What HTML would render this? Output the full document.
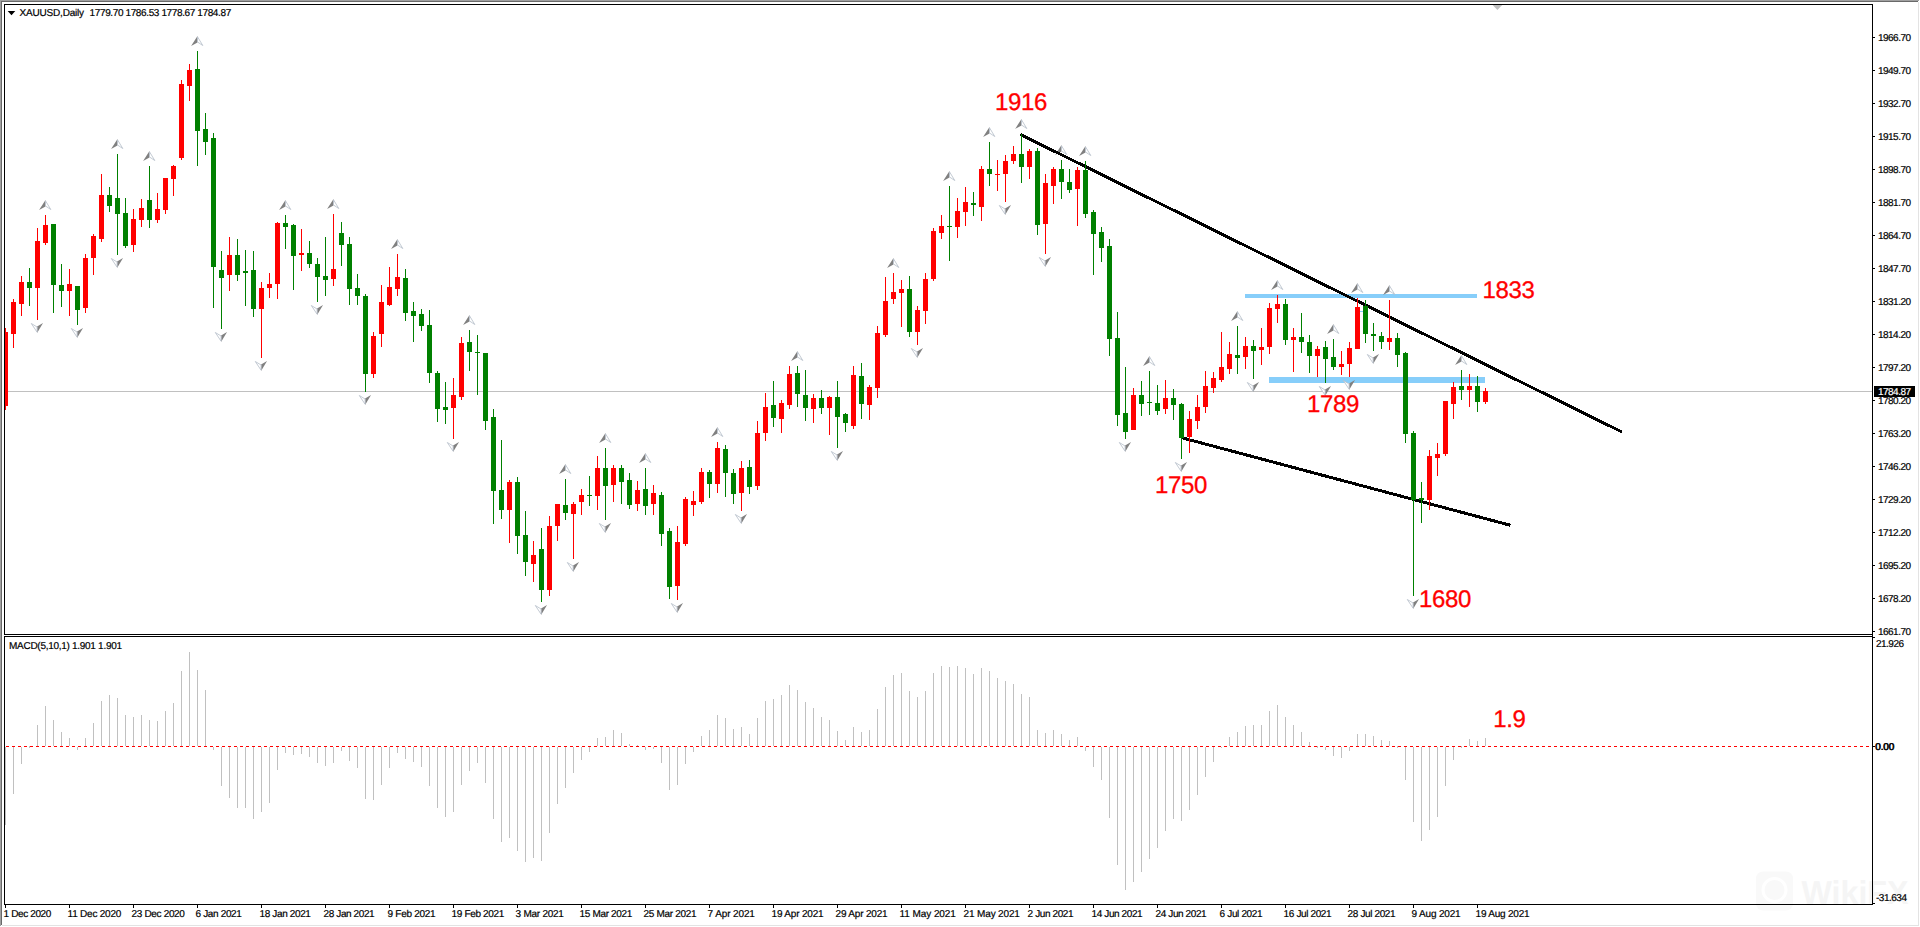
<!DOCTYPE html>
<html lang="en"><head><meta charset="utf-8"><title>XAUUSD,Daily</title>
<style>html,body{margin:0;padding:0;background:#fff;}body{width:1920px;height:927px;overflow:hidden;position:relative;font-family:"Liberation Sans",sans-serif;}svg{position:absolute;left:0;top:0;display:block}text{font-family:"Liberation Sans",sans-serif;text-rendering:geometricPrecision;}.s{font-size:10px;fill:#000;stroke:#000;stroke-width:0.2px}.b{font-size:24px;fill:#ff0000;letter-spacing:-0.35px;stroke:#ff0000;stroke-width:0.3px}</style>
</head><body>
<svg width="1920" height="927" viewBox="0 0 1920 927">
<rect x="0" y="0" width="1920" height="927" fill="#ffffff"/>
<rect x="1756" y="871.5" width="37" height="39" rx="7" fill="#f9f9f9"/>
<circle cx="1774.5" cy="890" r="11.5" fill="none" stroke="#ffffff" stroke-width="3"/>
<text x="1801.5" y="904" font-size="33" font-weight="bold" fill="#f5f5f5" textLength="107" lengthAdjust="spacingAndGlyphs" style="font-family:'Liberation Sans',sans-serif">WikiFX</text>
<g shape-rendering="crispEdges">
<rect x="0" y="0" width="1919" height="1" fill="#a0a0a0"/>
<rect x="0" y="0" width="1" height="926" fill="#a0a0a0"/>
<rect x="1" y="1" width="1917" height="1" fill="#696969"/>
<rect x="1" y="1" width="1" height="924" fill="#696969"/>
<rect x="2" y="925" width="1917" height="1" fill="#e3e3e3"/>
<rect x="1918" y="2" width="1" height="924" fill="#e3e3e3"/>
<rect x="4" y="4" width="1869" height="1" fill="#000000"/>
<rect x="4" y="4" width="1" height="631" fill="#000000"/>
<rect x="1872" y="4" width="1" height="900" fill="#000000"/>
<rect x="4" y="634" width="1869" height="1" fill="#000000"/>
<rect x="4" y="636" width="1869" height="1" fill="#000000"/>
<rect x="4" y="636" width="1" height="269" fill="#000000"/>
<rect x="4" y="904" width="1869" height="1" fill="#000000"/>
<rect x="1873" y="37" width="2" height="1" fill="#000000"/>
<rect x="1873" y="70" width="2" height="1" fill="#000000"/>
<rect x="1873" y="103" width="2" height="1" fill="#000000"/>
<rect x="1873" y="136" width="2" height="1" fill="#000000"/>
<rect x="1873" y="169" width="2" height="1" fill="#000000"/>
<rect x="1873" y="202" width="2" height="1" fill="#000000"/>
<rect x="1873" y="235" width="2" height="1" fill="#000000"/>
<rect x="1873" y="268" width="2" height="1" fill="#000000"/>
<rect x="1873" y="301" width="2" height="1" fill="#000000"/>
<rect x="1873" y="334" width="2" height="1" fill="#000000"/>
<rect x="1873" y="367" width="2" height="1" fill="#000000"/>
<rect x="1873" y="400" width="2" height="1" fill="#000000"/>
<rect x="1873" y="433" width="2" height="1" fill="#000000"/>
<rect x="1873" y="466" width="2" height="1" fill="#000000"/>
<rect x="1873" y="499" width="2" height="1" fill="#000000"/>
<rect x="1873" y="532" width="2" height="1" fill="#000000"/>
<rect x="1873" y="565" width="2" height="1" fill="#000000"/>
<rect x="1873" y="598" width="2" height="1" fill="#000000"/>
<rect x="1873" y="631" width="2" height="1" fill="#000000"/>
<rect x="1873" y="637" width="2" height="1" fill="#000000"/>
<rect x="1873" y="746" width="2" height="1" fill="#000000"/>
<rect x="1873" y="903" width="2" height="1" fill="#000000"/>
<rect x="5" y="905" width="1" height="3" fill="#000000"/>
<rect x="69" y="905" width="1" height="3" fill="#000000"/>
<rect x="133" y="905" width="1" height="3" fill="#000000"/>
<rect x="197" y="905" width="1" height="3" fill="#000000"/>
<rect x="261" y="905" width="1" height="3" fill="#000000"/>
<rect x="325" y="905" width="1" height="3" fill="#000000"/>
<rect x="389" y="905" width="1" height="3" fill="#000000"/>
<rect x="453" y="905" width="1" height="3" fill="#000000"/>
<rect x="517" y="905" width="1" height="3" fill="#000000"/>
<rect x="581" y="905" width="1" height="3" fill="#000000"/>
<rect x="645" y="905" width="1" height="3" fill="#000000"/>
<rect x="709" y="905" width="1" height="3" fill="#000000"/>
<rect x="773" y="905" width="1" height="3" fill="#000000"/>
<rect x="837" y="905" width="1" height="3" fill="#000000"/>
<rect x="901" y="905" width="1" height="3" fill="#000000"/>
<rect x="965" y="905" width="1" height="3" fill="#000000"/>
<rect x="1029" y="905" width="1" height="3" fill="#000000"/>
<rect x="1093" y="905" width="1" height="3" fill="#000000"/>
<rect x="1157" y="905" width="1" height="3" fill="#000000"/>
<rect x="1221" y="905" width="1" height="3" fill="#000000"/>
<rect x="1285" y="905" width="1" height="3" fill="#000000"/>
<rect x="1349" y="905" width="1" height="3" fill="#000000"/>
<rect x="1413" y="905" width="1" height="3" fill="#000000"/>
<rect x="1477" y="905" width="1" height="3" fill="#000000"/>
<rect x="5" y="391" width="1867" height="1" fill="#c0c0c0"/>
<rect x="1245" y="294" width="232" height="4" fill="#87cefa"/>
<rect x="1269" y="377" width="216" height="6" fill="#87cefa"/>
<rect x="1360" y="311" width="3" height="1" fill="#87cefa"/>
<polygon points="1492.6,5 1502.2,5 1497.4,10" fill="#c0c0c0" shape-rendering="geometricPrecision"/>
<rect x="5" y="747" width="1" height="78" fill="#c0c0c0"/>
<rect x="13" y="747" width="1" height="47" fill="#c0c0c0"/>
<rect x="21" y="747" width="1" height="17" fill="#c0c0c0"/>
<rect x="29" y="746" width="1" height="2" fill="#c0c0c0"/>
<rect x="37" y="725" width="1" height="21" fill="#c0c0c0"/>
<rect x="45" y="706" width="1" height="40" fill="#c0c0c0"/>
<rect x="53" y="720" width="1" height="26" fill="#c0c0c0"/>
<rect x="61" y="732" width="1" height="14" fill="#c0c0c0"/>
<rect x="69" y="738" width="1" height="8" fill="#c0c0c0"/>
<rect x="77" y="747" width="1" height="3" fill="#c0c0c0"/>
<rect x="85" y="738" width="1" height="8" fill="#c0c0c0"/>
<rect x="93" y="723" width="1" height="23" fill="#c0c0c0"/>
<rect x="101" y="701" width="1" height="45" fill="#c0c0c0"/>
<rect x="109" y="695" width="1" height="51" fill="#c0c0c0"/>
<rect x="117" y="698" width="1" height="48" fill="#c0c0c0"/>
<rect x="125" y="715" width="1" height="31" fill="#c0c0c0"/>
<rect x="133" y="717" width="1" height="29" fill="#c0c0c0"/>
<rect x="141" y="715" width="1" height="31" fill="#c0c0c0"/>
<rect x="149" y="720" width="1" height="26" fill="#c0c0c0"/>
<rect x="157" y="721" width="1" height="25" fill="#c0c0c0"/>
<rect x="165" y="711" width="1" height="35" fill="#c0c0c0"/>
<rect x="173" y="703" width="1" height="43" fill="#c0c0c0"/>
<rect x="181" y="671" width="1" height="75" fill="#c0c0c0"/>
<rect x="189" y="652" width="1" height="94" fill="#c0c0c0"/>
<rect x="197" y="670" width="1" height="76" fill="#c0c0c0"/>
<rect x="205" y="690" width="1" height="56" fill="#c0c0c0"/>
<rect x="213" y="747" width="1" height="3" fill="#c0c0c0"/>
<rect x="221" y="747" width="1" height="39" fill="#c0c0c0"/>
<rect x="229" y="747" width="1" height="51" fill="#c0c0c0"/>
<rect x="237" y="747" width="1" height="61" fill="#c0c0c0"/>
<rect x="245" y="747" width="1" height="61" fill="#c0c0c0"/>
<rect x="253" y="747" width="1" height="72" fill="#c0c0c0"/>
<rect x="261" y="747" width="1" height="65" fill="#c0c0c0"/>
<rect x="269" y="747" width="1" height="56" fill="#c0c0c0"/>
<rect x="277" y="747" width="1" height="23" fill="#c0c0c0"/>
<rect x="285" y="747" width="1" height="6" fill="#c0c0c0"/>
<rect x="293" y="747" width="1" height="8" fill="#c0c0c0"/>
<rect x="301" y="747" width="1" height="7" fill="#c0c0c0"/>
<rect x="309" y="747" width="1" height="10" fill="#c0c0c0"/>
<rect x="317" y="747" width="1" height="16" fill="#c0c0c0"/>
<rect x="325" y="747" width="1" height="19" fill="#c0c0c0"/>
<rect x="333" y="747" width="1" height="16" fill="#c0c0c0"/>
<rect x="341" y="747" width="1" height="4" fill="#c0c0c0"/>
<rect x="349" y="747" width="1" height="14" fill="#c0c0c0"/>
<rect x="357" y="747" width="1" height="21" fill="#c0c0c0"/>
<rect x="365" y="747" width="1" height="52" fill="#c0c0c0"/>
<rect x="373" y="747" width="1" height="53" fill="#c0c0c0"/>
<rect x="381" y="747" width="1" height="38" fill="#c0c0c0"/>
<rect x="389" y="747" width="1" height="21" fill="#c0c0c0"/>
<rect x="397" y="747" width="1" height="6" fill="#c0c0c0"/>
<rect x="405" y="747" width="1" height="12" fill="#c0c0c0"/>
<rect x="413" y="747" width="1" height="15" fill="#c0c0c0"/>
<rect x="421" y="747" width="1" height="20" fill="#c0c0c0"/>
<rect x="429" y="747" width="1" height="39" fill="#c0c0c0"/>
<rect x="437" y="747" width="1" height="61" fill="#c0c0c0"/>
<rect x="445" y="747" width="1" height="70" fill="#c0c0c0"/>
<rect x="453" y="747" width="1" height="65" fill="#c0c0c0"/>
<rect x="461" y="747" width="1" height="38" fill="#c0c0c0"/>
<rect x="469" y="747" width="1" height="24" fill="#c0c0c0"/>
<rect x="477" y="747" width="1" height="16" fill="#c0c0c0"/>
<rect x="485" y="747" width="1" height="36" fill="#c0c0c0"/>
<rect x="493" y="747" width="1" height="72" fill="#c0c0c0"/>
<rect x="501" y="747" width="1" height="95" fill="#c0c0c0"/>
<rect x="509" y="747" width="1" height="91" fill="#c0c0c0"/>
<rect x="517" y="747" width="1" height="104" fill="#c0c0c0"/>
<rect x="525" y="747" width="1" height="115" fill="#c0c0c0"/>
<rect x="533" y="747" width="1" height="111" fill="#c0c0c0"/>
<rect x="541" y="747" width="1" height="114" fill="#c0c0c0"/>
<rect x="549" y="747" width="1" height="86" fill="#c0c0c0"/>
<rect x="557" y="747" width="1" height="57" fill="#c0c0c0"/>
<rect x="565" y="747" width="1" height="41" fill="#c0c0c0"/>
<rect x="573" y="747" width="1" height="26" fill="#c0c0c0"/>
<rect x="581" y="747" width="1" height="13" fill="#c0c0c0"/>
<rect x="589" y="747" width="1" height="5" fill="#c0c0c0"/>
<rect x="597" y="738" width="1" height="8" fill="#c0c0c0"/>
<rect x="605" y="737" width="1" height="9" fill="#c0c0c0"/>
<rect x="613" y="730" width="1" height="16" fill="#c0c0c0"/>
<rect x="621" y="733" width="1" height="13" fill="#c0c0c0"/>
<rect x="629" y="744" width="1" height="2" fill="#c0c0c0"/>
<rect x="637" y="745" width="1" height="1" fill="#c0c0c0"/>
<rect x="645" y="747" width="1" height="3" fill="#c0c0c0"/>
<rect x="653" y="747" width="1" height="2" fill="#c0c0c0"/>
<rect x="661" y="747" width="1" height="16" fill="#c0c0c0"/>
<rect x="669" y="747" width="1" height="43" fill="#c0c0c0"/>
<rect x="677" y="747" width="1" height="38" fill="#c0c0c0"/>
<rect x="685" y="747" width="1" height="17" fill="#c0c0c0"/>
<rect x="693" y="747" width="1" height="5" fill="#c0c0c0"/>
<rect x="701" y="736" width="1" height="10" fill="#c0c0c0"/>
<rect x="709" y="730" width="1" height="16" fill="#c0c0c0"/>
<rect x="717" y="715" width="1" height="31" fill="#c0c0c0"/>
<rect x="725" y="718" width="1" height="28" fill="#c0c0c0"/>
<rect x="733" y="729" width="1" height="17" fill="#c0c0c0"/>
<rect x="741" y="727" width="1" height="19" fill="#c0c0c0"/>
<rect x="749" y="734" width="1" height="12" fill="#c0c0c0"/>
<rect x="757" y="718" width="1" height="28" fill="#c0c0c0"/>
<rect x="765" y="701" width="1" height="45" fill="#c0c0c0"/>
<rect x="773" y="699" width="1" height="47" fill="#c0c0c0"/>
<rect x="781" y="695" width="1" height="51" fill="#c0c0c0"/>
<rect x="789" y="685" width="1" height="61" fill="#c0c0c0"/>
<rect x="797" y="690" width="1" height="56" fill="#c0c0c0"/>
<rect x="805" y="702" width="1" height="44" fill="#c0c0c0"/>
<rect x="813" y="708" width="1" height="38" fill="#c0c0c0"/>
<rect x="821" y="717" width="1" height="29" fill="#c0c0c0"/>
<rect x="829" y="720" width="1" height="26" fill="#c0c0c0"/>
<rect x="837" y="731" width="1" height="15" fill="#c0c0c0"/>
<rect x="845" y="740" width="1" height="6" fill="#c0c0c0"/>
<rect x="853" y="727" width="1" height="19" fill="#c0c0c0"/>
<rect x="861" y="732" width="1" height="14" fill="#c0c0c0"/>
<rect x="869" y="730" width="1" height="16" fill="#c0c0c0"/>
<rect x="877" y="709" width="1" height="37" fill="#c0c0c0"/>
<rect x="885" y="687" width="1" height="59" fill="#c0c0c0"/>
<rect x="893" y="675" width="1" height="71" fill="#c0c0c0"/>
<rect x="901" y="673" width="1" height="73" fill="#c0c0c0"/>
<rect x="909" y="691" width="1" height="55" fill="#c0c0c0"/>
<rect x="917" y="697" width="1" height="49" fill="#c0c0c0"/>
<rect x="925" y="691" width="1" height="55" fill="#c0c0c0"/>
<rect x="933" y="673" width="1" height="73" fill="#c0c0c0"/>
<rect x="941" y="666" width="1" height="80" fill="#c0c0c0"/>
<rect x="949" y="667" width="1" height="79" fill="#c0c0c0"/>
<rect x="957" y="666" width="1" height="80" fill="#c0c0c0"/>
<rect x="965" y="668" width="1" height="78" fill="#c0c0c0"/>
<rect x="973" y="674" width="1" height="72" fill="#c0c0c0"/>
<rect x="981" y="668" width="1" height="78" fill="#c0c0c0"/>
<rect x="989" y="671" width="1" height="75" fill="#c0c0c0"/>
<rect x="997" y="678" width="1" height="68" fill="#c0c0c0"/>
<rect x="1005" y="681" width="1" height="65" fill="#c0c0c0"/>
<rect x="1013" y="684" width="1" height="62" fill="#c0c0c0"/>
<rect x="1021" y="694" width="1" height="52" fill="#c0c0c0"/>
<rect x="1029" y="697" width="1" height="49" fill="#c0c0c0"/>
<rect x="1037" y="730" width="1" height="16" fill="#c0c0c0"/>
<rect x="1045" y="733" width="1" height="13" fill="#c0c0c0"/>
<rect x="1053" y="730" width="1" height="16" fill="#c0c0c0"/>
<rect x="1061" y="734" width="1" height="12" fill="#c0c0c0"/>
<rect x="1069" y="740" width="1" height="6" fill="#c0c0c0"/>
<rect x="1077" y="737" width="1" height="9" fill="#c0c0c0"/>
<rect x="1085" y="747" width="1" height="4" fill="#c0c0c0"/>
<rect x="1093" y="747" width="1" height="20" fill="#c0c0c0"/>
<rect x="1101" y="747" width="1" height="33" fill="#c0c0c0"/>
<rect x="1109" y="747" width="1" height="71" fill="#c0c0c0"/>
<rect x="1117" y="747" width="1" height="118" fill="#c0c0c0"/>
<rect x="1125" y="747" width="1" height="143" fill="#c0c0c0"/>
<rect x="1133" y="747" width="1" height="135" fill="#c0c0c0"/>
<rect x="1141" y="747" width="1" height="125" fill="#c0c0c0"/>
<rect x="1149" y="747" width="1" height="112" fill="#c0c0c0"/>
<rect x="1157" y="747" width="1" height="101" fill="#c0c0c0"/>
<rect x="1165" y="747" width="1" height="84" fill="#c0c0c0"/>
<rect x="1173" y="747" width="1" height="72" fill="#c0c0c0"/>
<rect x="1181" y="747" width="1" height="74" fill="#c0c0c0"/>
<rect x="1189" y="747" width="1" height="63" fill="#c0c0c0"/>
<rect x="1197" y="747" width="1" height="48" fill="#c0c0c0"/>
<rect x="1205" y="747" width="1" height="30" fill="#c0c0c0"/>
<rect x="1213" y="747" width="1" height="15" fill="#c0c0c0"/>
<rect x="1221" y="747" width="1" height="1" fill="#c0c0c0"/>
<rect x="1229" y="737" width="1" height="9" fill="#c0c0c0"/>
<rect x="1237" y="732" width="1" height="14" fill="#c0c0c0"/>
<rect x="1245" y="726" width="1" height="20" fill="#c0c0c0"/>
<rect x="1253" y="725" width="1" height="21" fill="#c0c0c0"/>
<rect x="1261" y="725" width="1" height="21" fill="#c0c0c0"/>
<rect x="1269" y="711" width="1" height="35" fill="#c0c0c0"/>
<rect x="1277" y="705" width="1" height="41" fill="#c0c0c0"/>
<rect x="1285" y="717" width="1" height="29" fill="#c0c0c0"/>
<rect x="1293" y="725" width="1" height="21" fill="#c0c0c0"/>
<rect x="1301" y="732" width="1" height="14" fill="#c0c0c0"/>
<rect x="1309" y="742" width="1" height="4" fill="#c0c0c0"/>
<rect x="1317" y="746" width="1" height="2" fill="#c0c0c0"/>
<rect x="1325" y="747" width="1" height="3" fill="#c0c0c0"/>
<rect x="1333" y="747" width="1" height="9" fill="#c0c0c0"/>
<rect x="1341" y="747" width="1" height="11" fill="#c0c0c0"/>
<rect x="1349" y="747" width="1" height="4" fill="#c0c0c0"/>
<rect x="1357" y="734" width="1" height="12" fill="#c0c0c0"/>
<rect x="1365" y="734" width="1" height="12" fill="#c0c0c0"/>
<rect x="1373" y="736" width="1" height="10" fill="#c0c0c0"/>
<rect x="1381" y="740" width="1" height="6" fill="#c0c0c0"/>
<rect x="1389" y="741" width="1" height="5" fill="#c0c0c0"/>
<rect x="1397" y="746" width="1" height="2" fill="#c0c0c0"/>
<rect x="1405" y="747" width="1" height="33" fill="#c0c0c0"/>
<rect x="1413" y="747" width="1" height="75" fill="#c0c0c0"/>
<rect x="1421" y="747" width="1" height="94" fill="#c0c0c0"/>
<rect x="1429" y="747" width="1" height="83" fill="#c0c0c0"/>
<rect x="1437" y="747" width="1" height="70" fill="#c0c0c0"/>
<rect x="1445" y="747" width="1" height="39" fill="#c0c0c0"/>
<rect x="1453" y="747" width="1" height="13" fill="#c0c0c0"/>
<rect x="1461" y="746" width="1" height="2" fill="#c0c0c0"/>
<rect x="1469" y="739" width="1" height="7" fill="#c0c0c0"/>
<rect x="1477" y="741" width="1" height="5" fill="#c0c0c0"/>
<rect x="1485" y="738" width="1" height="8" fill="#c0c0c0"/>
<line x1="6" y1="746.5" x2="1872" y2="746.5" stroke="#ff0000" stroke-width="1" stroke-dasharray="3 3" />
</g>
<g>
<polygon points="45.5,200 39.1,210 45.5,206.4" fill="#808080"/>
<polygon points="45.5,200.8 50.8,209.5 45.5,206" fill="#ffffff" stroke="#b4bcc8" stroke-width="0.8"/>
<polygon points="117.5,139 111.1,149 117.5,145.4" fill="#808080"/>
<polygon points="117.5,139.8 122.8,148.5 117.5,145" fill="#ffffff" stroke="#b4bcc8" stroke-width="0.8"/>
<polygon points="149.5,151 143.1,161 149.5,157.4" fill="#808080"/>
<polygon points="149.5,151.8 154.8,160.5 149.5,157" fill="#ffffff" stroke="#b4bcc8" stroke-width="0.8"/>
<polygon points="197.5,36 191.1,46 197.5,42.4" fill="#808080"/>
<polygon points="197.5,36.8 202.8,45.5 197.5,42" fill="#ffffff" stroke="#b4bcc8" stroke-width="0.8"/>
<polygon points="285.5,200 279.1,210 285.5,206.4" fill="#808080"/>
<polygon points="285.5,200.8 290.8,209.5 285.5,206" fill="#ffffff" stroke="#b4bcc8" stroke-width="0.8"/>
<polygon points="333.5,199 327.1,209 333.5,205.4" fill="#808080"/>
<polygon points="333.5,199.8 338.8,208.5 333.5,205" fill="#ffffff" stroke="#b4bcc8" stroke-width="0.8"/>
<polygon points="397.5,239 391.1,249 397.5,245.4" fill="#808080"/>
<polygon points="397.5,239.8 402.8,248.5 397.5,245" fill="#ffffff" stroke="#b4bcc8" stroke-width="0.8"/>
<polygon points="469.5,315 463.1,325 469.5,321.4" fill="#808080"/>
<polygon points="469.5,315.8 474.8,324.5 469.5,321" fill="#ffffff" stroke="#b4bcc8" stroke-width="0.8"/>
<polygon points="565.5,464 559.1,474 565.5,470.4" fill="#808080"/>
<polygon points="565.5,464.8 570.8,473.5 565.5,470" fill="#ffffff" stroke="#b4bcc8" stroke-width="0.8"/>
<polygon points="605.5,433 599.1,443 605.5,439.4" fill="#808080"/>
<polygon points="605.5,433.8 610.8,442.5 605.5,439" fill="#ffffff" stroke="#b4bcc8" stroke-width="0.8"/>
<polygon points="645.5,453 639.1,463 645.5,459.4" fill="#808080"/>
<polygon points="645.5,453.8 650.8,462.5 645.5,459" fill="#ffffff" stroke="#b4bcc8" stroke-width="0.8"/>
<polygon points="717.5,427 711.1,437 717.5,433.4" fill="#808080"/>
<polygon points="717.5,427.8 722.8,436.5 717.5,433" fill="#ffffff" stroke="#b4bcc8" stroke-width="0.8"/>
<polygon points="797.5,351 791.1,361 797.5,357.4" fill="#808080"/>
<polygon points="797.5,351.8 802.8,360.5 797.5,357" fill="#ffffff" stroke="#b4bcc8" stroke-width="0.8"/>
<polygon points="893.5,258 887.1,268 893.5,264.4" fill="#808080"/>
<polygon points="893.5,258.8 898.8,267.5 893.5,264" fill="#ffffff" stroke="#b4bcc8" stroke-width="0.8"/>
<polygon points="949.5,171 943.1,181 949.5,177.4" fill="#808080"/>
<polygon points="949.5,171.8 954.8,180.5 949.5,177" fill="#ffffff" stroke="#b4bcc8" stroke-width="0.8"/>
<polygon points="989.5,127 983.1,137 989.5,133.4" fill="#808080"/>
<polygon points="989.5,127.8 994.8,136.5 989.5,133" fill="#ffffff" stroke="#b4bcc8" stroke-width="0.8"/>
<polygon points="1021.5,119 1015.1,129 1021.5,125.4" fill="#808080"/>
<polygon points="1021.5,119.8 1026.8,128.5 1021.5,125" fill="#ffffff" stroke="#b4bcc8" stroke-width="0.8"/>
<polygon points="1061.5,145 1055.1,155 1061.5,151.4" fill="#808080"/>
<polygon points="1061.5,145.8 1066.8,154.5 1061.5,151" fill="#ffffff" stroke="#b4bcc8" stroke-width="0.8"/>
<polygon points="1085.5,146 1079.1,156 1085.5,152.4" fill="#808080"/>
<polygon points="1085.5,146.8 1090.8,155.5 1085.5,152" fill="#ffffff" stroke="#b4bcc8" stroke-width="0.8"/>
<polygon points="1149.5,356 1143.1,366 1149.5,362.4" fill="#808080"/>
<polygon points="1149.5,356.8 1154.8,365.5 1149.5,362" fill="#ffffff" stroke="#b4bcc8" stroke-width="0.8"/>
<polygon points="1237.5,311 1231.1,321 1237.5,317.4" fill="#808080"/>
<polygon points="1237.5,311.8 1242.8,320.5 1237.5,317" fill="#ffffff" stroke="#b4bcc8" stroke-width="0.8"/>
<polygon points="1277.5,280 1271.1,290 1277.5,286.4" fill="#808080"/>
<polygon points="1277.5,280.8 1282.8,289.5 1277.5,286" fill="#ffffff" stroke="#b4bcc8" stroke-width="0.8"/>
<polygon points="1333.5,324 1327.1,334 1333.5,330.4" fill="#808080"/>
<polygon points="1333.5,324.8 1338.8,333.5 1333.5,330" fill="#ffffff" stroke="#b4bcc8" stroke-width="0.8"/>
<polygon points="1357.5,283 1351.1,293 1357.5,289.4" fill="#808080"/>
<polygon points="1357.5,283.8 1362.8,292.5 1357.5,289" fill="#ffffff" stroke="#b4bcc8" stroke-width="0.8"/>
<polygon points="1389.5,285 1383.1,295 1389.5,291.4" fill="#808080"/>
<polygon points="1389.5,285.8 1394.8,294.5 1389.5,291" fill="#ffffff" stroke="#b4bcc8" stroke-width="0.8"/>
<polygon points="1461.5,355 1455.1,365 1461.5,361.4" fill="#808080"/>
<polygon points="1461.5,355.8 1466.8,364.5 1461.5,361" fill="#ffffff" stroke="#b4bcc8" stroke-width="0.8"/>
<polygon points="37.1,333 43.0,323 37.1,326.6" fill="#808080"/>
<polygon points="37.1,332.2 31.3,323.5 37.1,327" fill="#ffffff" stroke="#b4bcc8" stroke-width="0.8"/>
<polygon points="77.1,338 83.0,328 77.1,331.6" fill="#808080"/>
<polygon points="77.1,337.2 71.3,328.5 77.1,332" fill="#ffffff" stroke="#b4bcc8" stroke-width="0.8"/>
<polygon points="117.1,268 123.0,258 117.1,261.6" fill="#808080"/>
<polygon points="117.1,267.2 111.3,258.5 117.1,262" fill="#ffffff" stroke="#b4bcc8" stroke-width="0.8"/>
<polygon points="221.1,342 227.0,332 221.1,335.6" fill="#808080"/>
<polygon points="221.1,341.2 215.29999999999998,332.5 221.1,336" fill="#ffffff" stroke="#b4bcc8" stroke-width="0.8"/>
<polygon points="261.1,371 267.0,361 261.1,364.6" fill="#808080"/>
<polygon points="261.1,370.2 255.3,361.5 261.1,365" fill="#ffffff" stroke="#b4bcc8" stroke-width="0.8"/>
<polygon points="317.1,315 323.0,305 317.1,308.6" fill="#808080"/>
<polygon points="317.1,314.2 311.3,305.5 317.1,309" fill="#ffffff" stroke="#b4bcc8" stroke-width="0.8"/>
<polygon points="365.1,405 371.0,395 365.1,398.6" fill="#808080"/>
<polygon points="365.1,404.2 359.3,395.5 365.1,399" fill="#ffffff" stroke="#b4bcc8" stroke-width="0.8"/>
<polygon points="453.1,452 459.0,442 453.1,445.6" fill="#808080"/>
<polygon points="453.1,451.2 447.3,442.5 453.1,446" fill="#ffffff" stroke="#b4bcc8" stroke-width="0.8"/>
<polygon points="541.1,615 547.0,605 541.1,608.6" fill="#808080"/>
<polygon points="541.1,614.2 535.3000000000001,605.5 541.1,609" fill="#ffffff" stroke="#b4bcc8" stroke-width="0.8"/>
<polygon points="573.1,572 579.0,562 573.1,565.6" fill="#808080"/>
<polygon points="573.1,571.2 567.3000000000001,562.5 573.1,566" fill="#ffffff" stroke="#b4bcc8" stroke-width="0.8"/>
<polygon points="605.1,533 611.0,523 605.1,526.6" fill="#808080"/>
<polygon points="605.1,532.2 599.3000000000001,523.5 605.1,527" fill="#ffffff" stroke="#b4bcc8" stroke-width="0.8"/>
<polygon points="677.1,613 683.0,603 677.1,606.6" fill="#808080"/>
<polygon points="677.1,612.2 671.3000000000001,603.5 677.1,607" fill="#ffffff" stroke="#b4bcc8" stroke-width="0.8"/>
<polygon points="741.1,524 747.0,514 741.1,517.6" fill="#808080"/>
<polygon points="741.1,523.2 735.3000000000001,514.5 741.1,518" fill="#ffffff" stroke="#b4bcc8" stroke-width="0.8"/>
<polygon points="837.1,461 843.0,451 837.1,454.6" fill="#808080"/>
<polygon points="837.1,460.2 831.3000000000001,451.5 837.1,455" fill="#ffffff" stroke="#b4bcc8" stroke-width="0.8"/>
<polygon points="917.1,358 923.0,348 917.1,351.6" fill="#808080"/>
<polygon points="917.1,357.2 911.3000000000001,348.5 917.1,352" fill="#ffffff" stroke="#b4bcc8" stroke-width="0.8"/>
<polygon points="1005.1,215 1011.0,205 1005.1,208.6" fill="#808080"/>
<polygon points="1005.1,214.2 999.3000000000001,205.5 1005.1,209" fill="#ffffff" stroke="#b4bcc8" stroke-width="0.8"/>
<polygon points="1045.1,267 1051.0,257 1045.1,260.6" fill="#808080"/>
<polygon points="1045.1,266.2 1039.3,257.5 1045.1,261" fill="#ffffff" stroke="#b4bcc8" stroke-width="0.8"/>
<polygon points="1125.1,452 1131.0,442 1125.1,445.6" fill="#808080"/>
<polygon points="1125.1,451.2 1119.3,442.5 1125.1,446" fill="#ffffff" stroke="#b4bcc8" stroke-width="0.8"/>
<polygon points="1181.1,472 1187.0,462 1181.1,465.6" fill="#808080"/>
<polygon points="1181.1,471.2 1175.3,462.5 1181.1,466" fill="#ffffff" stroke="#b4bcc8" stroke-width="0.8"/>
<polygon points="1253.1,392 1259.0,382 1253.1,385.6" fill="#808080"/>
<polygon points="1253.1,391.2 1247.3,382.5 1253.1,386" fill="#ffffff" stroke="#b4bcc8" stroke-width="0.8"/>
<polygon points="1325.1,396 1331.0,386 1325.1,389.6" fill="#808080"/>
<polygon points="1325.1,395.2 1319.3,386.5 1325.1,390" fill="#ffffff" stroke="#b4bcc8" stroke-width="0.8"/>
<polygon points="1349.1,390 1355.0,380 1349.1,383.6" fill="#808080"/>
<polygon points="1349.1,389.2 1343.3,380.5 1349.1,384" fill="#ffffff" stroke="#b4bcc8" stroke-width="0.8"/>
<polygon points="1373.1,364 1379.0,354 1373.1,357.6" fill="#808080"/>
<polygon points="1373.1,363.2 1367.3,354.5 1373.1,358" fill="#ffffff" stroke="#b4bcc8" stroke-width="0.8"/>
<polygon points="1413.1,609 1419.0,599 1413.1,602.6" fill="#808080"/>
<polygon points="1413.1,608.2 1407.3,599.5 1413.1,603" fill="#ffffff" stroke="#b4bcc8" stroke-width="0.8"/>
</g>
<g shape-rendering="crispEdges" stroke="#000" stroke-width="3" stroke-linecap="butt">
<line x1="1020.5" y1="134.5" x2="1622" y2="432"/>
<line x1="1182" y1="437.8" x2="1510.5" y2="525.3"/>
</g>
<g shape-rendering="crispEdges">
<rect x="5" y="328" width="1" height="82" fill="#ff0000"/>
<rect x="5" y="332" width="3" height="74" fill="#ff0000"/>
<rect x="13" y="299" width="1" height="49" fill="#ff0000"/>
<rect x="11" y="302" width="5" height="32" fill="#ff0000"/>
<rect x="21" y="276" width="1" height="40" fill="#ff0000"/>
<rect x="19" y="282" width="5" height="22" fill="#ff0000"/>
<rect x="29" y="268" width="1" height="38" fill="#008000"/>
<rect x="27" y="282" width="5" height="6" fill="#008000"/>
<rect x="37" y="228" width="1" height="92" fill="#ff0000"/>
<rect x="35" y="241" width="5" height="47" fill="#ff0000"/>
<rect x="45" y="215" width="1" height="30" fill="#ff0000"/>
<rect x="43" y="225" width="5" height="18" fill="#ff0000"/>
<rect x="53" y="224" width="1" height="89" fill="#008000"/>
<rect x="51" y="224" width="5" height="61" fill="#008000"/>
<rect x="61" y="264" width="1" height="43" fill="#008000"/>
<rect x="59" y="285" width="5" height="6" fill="#008000"/>
<rect x="69" y="269" width="1" height="47" fill="#ff0000"/>
<rect x="67" y="284" width="5" height="7" fill="#ff0000"/>
<rect x="77" y="286" width="1" height="39" fill="#008000"/>
<rect x="75" y="286" width="5" height="24" fill="#008000"/>
<rect x="85" y="254" width="1" height="59" fill="#ff0000"/>
<rect x="83" y="258" width="5" height="50" fill="#ff0000"/>
<rect x="93" y="234" width="1" height="41" fill="#ff0000"/>
<rect x="91" y="236" width="5" height="22" fill="#ff0000"/>
<rect x="101" y="174" width="1" height="68" fill="#ff0000"/>
<rect x="99" y="195" width="5" height="44" fill="#ff0000"/>
<rect x="109" y="187" width="1" height="25" fill="#008000"/>
<rect x="107" y="195" width="5" height="11" fill="#008000"/>
<rect x="117" y="154" width="1" height="101" fill="#008000"/>
<rect x="115" y="198" width="5" height="16" fill="#008000"/>
<rect x="125" y="198" width="1" height="50" fill="#008000"/>
<rect x="123" y="213" width="5" height="33" fill="#008000"/>
<rect x="133" y="209" width="1" height="43" fill="#ff0000"/>
<rect x="131" y="219" width="5" height="26" fill="#ff0000"/>
<rect x="141" y="199" width="1" height="28" fill="#ff0000"/>
<rect x="139" y="208" width="5" height="12" fill="#ff0000"/>
<rect x="149" y="166" width="1" height="62" fill="#008000"/>
<rect x="147" y="200" width="5" height="20" fill="#008000"/>
<rect x="157" y="193" width="1" height="30" fill="#ff0000"/>
<rect x="155" y="209" width="5" height="11" fill="#ff0000"/>
<rect x="165" y="178" width="1" height="36" fill="#ff0000"/>
<rect x="163" y="178" width="5" height="32" fill="#ff0000"/>
<rect x="173" y="165" width="1" height="31" fill="#ff0000"/>
<rect x="171" y="166" width="5" height="13" fill="#ff0000"/>
<rect x="181" y="80" width="1" height="80" fill="#ff0000"/>
<rect x="179" y="84" width="5" height="74" fill="#ff0000"/>
<rect x="189" y="64" width="1" height="37" fill="#ff0000"/>
<rect x="187" y="70" width="5" height="16" fill="#ff0000"/>
<rect x="197" y="51" width="1" height="115" fill="#008000"/>
<rect x="195" y="69" width="5" height="62" fill="#008000"/>
<rect x="205" y="113" width="1" height="42" fill="#008000"/>
<rect x="203" y="129" width="5" height="13" fill="#008000"/>
<rect x="213" y="133" width="1" height="175" fill="#008000"/>
<rect x="211" y="138" width="5" height="129" fill="#008000"/>
<rect x="221" y="251" width="1" height="78" fill="#008000"/>
<rect x="219" y="270" width="5" height="8" fill="#008000"/>
<rect x="229" y="237" width="1" height="54" fill="#ff0000"/>
<rect x="227" y="255" width="5" height="20" fill="#ff0000"/>
<rect x="237" y="239" width="1" height="42" fill="#008000"/>
<rect x="235" y="255" width="5" height="20" fill="#008000"/>
<rect x="245" y="250" width="1" height="56" fill="#008000"/>
<rect x="243" y="271" width="5" height="2" fill="#008000"/>
<rect x="253" y="251" width="1" height="66" fill="#008000"/>
<rect x="251" y="270" width="5" height="39" fill="#008000"/>
<rect x="261" y="282" width="1" height="76" fill="#ff0000"/>
<rect x="259" y="288" width="5" height="21" fill="#ff0000"/>
<rect x="269" y="273" width="1" height="25" fill="#ff0000"/>
<rect x="267" y="284" width="5" height="4" fill="#ff0000"/>
<rect x="277" y="222" width="1" height="77" fill="#ff0000"/>
<rect x="275" y="223" width="5" height="61" fill="#ff0000"/>
<rect x="285" y="215" width="1" height="34" fill="#008000"/>
<rect x="283" y="223" width="5" height="4" fill="#008000"/>
<rect x="293" y="224" width="1" height="66" fill="#008000"/>
<rect x="291" y="225" width="5" height="31" fill="#008000"/>
<rect x="301" y="229" width="1" height="42" fill="#ff0000"/>
<rect x="299" y="253" width="5" height="2" fill="#ff0000"/>
<rect x="309" y="241" width="1" height="27" fill="#008000"/>
<rect x="307" y="253" width="5" height="11" fill="#008000"/>
<rect x="317" y="258" width="1" height="44" fill="#008000"/>
<rect x="315" y="264" width="5" height="13" fill="#008000"/>
<rect x="325" y="237" width="1" height="59" fill="#008000"/>
<rect x="323" y="276" width="5" height="4" fill="#008000"/>
<rect x="333" y="214" width="1" height="72" fill="#ff0000"/>
<rect x="331" y="269" width="5" height="10" fill="#ff0000"/>
<rect x="341" y="222" width="1" height="44" fill="#008000"/>
<rect x="339" y="233" width="5" height="12" fill="#008000"/>
<rect x="349" y="237" width="1" height="68" fill="#008000"/>
<rect x="347" y="244" width="5" height="45" fill="#008000"/>
<rect x="357" y="274" width="1" height="31" fill="#008000"/>
<rect x="355" y="288" width="5" height="8" fill="#008000"/>
<rect x="365" y="294" width="1" height="98" fill="#008000"/>
<rect x="363" y="296" width="5" height="78" fill="#008000"/>
<rect x="373" y="332" width="1" height="46" fill="#ff0000"/>
<rect x="371" y="336" width="5" height="38" fill="#ff0000"/>
<rect x="381" y="285" width="1" height="62" fill="#ff0000"/>
<rect x="379" y="302" width="5" height="32" fill="#ff0000"/>
<rect x="389" y="267" width="1" height="39" fill="#ff0000"/>
<rect x="387" y="287" width="5" height="18" fill="#ff0000"/>
<rect x="397" y="254" width="1" height="42" fill="#ff0000"/>
<rect x="395" y="277" width="5" height="12" fill="#ff0000"/>
<rect x="405" y="269" width="1" height="52" fill="#008000"/>
<rect x="403" y="278" width="5" height="35" fill="#008000"/>
<rect x="413" y="302" width="1" height="40" fill="#008000"/>
<rect x="411" y="311" width="5" height="5" fill="#008000"/>
<rect x="421" y="309" width="1" height="22" fill="#008000"/>
<rect x="419" y="314" width="5" height="12" fill="#008000"/>
<rect x="429" y="310" width="1" height="73" fill="#008000"/>
<rect x="427" y="325" width="5" height="48" fill="#008000"/>
<rect x="437" y="371" width="1" height="51" fill="#008000"/>
<rect x="435" y="373" width="5" height="36" fill="#008000"/>
<rect x="445" y="382" width="1" height="42" fill="#008000"/>
<rect x="443" y="407" width="5" height="3" fill="#008000"/>
<rect x="453" y="378" width="1" height="61" fill="#ff0000"/>
<rect x="451" y="395" width="5" height="13" fill="#ff0000"/>
<rect x="461" y="337" width="1" height="63" fill="#ff0000"/>
<rect x="459" y="343" width="5" height="54" fill="#ff0000"/>
<rect x="469" y="330" width="1" height="41" fill="#008000"/>
<rect x="467" y="342" width="5" height="10" fill="#008000"/>
<rect x="477" y="335" width="1" height="60" fill="#008000"/>
<rect x="475" y="352" width="5" height="1" fill="#008000"/>
<rect x="485" y="353" width="1" height="77" fill="#008000"/>
<rect x="483" y="353" width="5" height="68" fill="#008000"/>
<rect x="493" y="409" width="1" height="115" fill="#008000"/>
<rect x="491" y="417" width="5" height="74" fill="#008000"/>
<rect x="501" y="440" width="1" height="79" fill="#008000"/>
<rect x="499" y="490" width="5" height="20" fill="#008000"/>
<rect x="509" y="480" width="1" height="63" fill="#ff0000"/>
<rect x="507" y="482" width="5" height="28" fill="#ff0000"/>
<rect x="517" y="477" width="1" height="77" fill="#008000"/>
<rect x="515" y="482" width="5" height="54" fill="#008000"/>
<rect x="525" y="511" width="1" height="65" fill="#008000"/>
<rect x="523" y="535" width="5" height="27" fill="#008000"/>
<rect x="533" y="541" width="1" height="41" fill="#ff0000"/>
<rect x="531" y="555" width="5" height="9" fill="#ff0000"/>
<rect x="541" y="528" width="1" height="74" fill="#008000"/>
<rect x="539" y="549" width="5" height="41" fill="#008000"/>
<rect x="549" y="516" width="1" height="80" fill="#ff0000"/>
<rect x="547" y="526" width="5" height="64" fill="#ff0000"/>
<rect x="557" y="504" width="1" height="37" fill="#ff0000"/>
<rect x="555" y="504" width="5" height="22" fill="#ff0000"/>
<rect x="565" y="479" width="1" height="41" fill="#008000"/>
<rect x="563" y="505" width="5" height="8" fill="#008000"/>
<rect x="573" y="502" width="1" height="57" fill="#ff0000"/>
<rect x="571" y="504" width="5" height="10" fill="#ff0000"/>
<rect x="581" y="489" width="1" height="26" fill="#ff0000"/>
<rect x="579" y="495" width="5" height="7" fill="#ff0000"/>
<rect x="589" y="476" width="1" height="30" fill="#008000"/>
<rect x="587" y="495" width="5" height="1" fill="#008000"/>
<rect x="597" y="456" width="1" height="54" fill="#ff0000"/>
<rect x="595" y="468" width="5" height="28" fill="#ff0000"/>
<rect x="605" y="448" width="1" height="72" fill="#008000"/>
<rect x="603" y="468" width="5" height="18" fill="#008000"/>
<rect x="613" y="465" width="1" height="37" fill="#ff0000"/>
<rect x="611" y="468" width="5" height="17" fill="#ff0000"/>
<rect x="621" y="465" width="1" height="39" fill="#008000"/>
<rect x="619" y="468" width="5" height="14" fill="#008000"/>
<rect x="629" y="473" width="1" height="36" fill="#008000"/>
<rect x="627" y="480" width="5" height="25" fill="#008000"/>
<rect x="637" y="481" width="1" height="30" fill="#ff0000"/>
<rect x="635" y="490" width="5" height="14" fill="#ff0000"/>
<rect x="645" y="468" width="1" height="47" fill="#008000"/>
<rect x="643" y="489" width="5" height="17" fill="#008000"/>
<rect x="653" y="485" width="1" height="30" fill="#ff0000"/>
<rect x="651" y="493" width="5" height="11" fill="#ff0000"/>
<rect x="661" y="492" width="1" height="54" fill="#008000"/>
<rect x="659" y="495" width="5" height="39" fill="#008000"/>
<rect x="669" y="528" width="1" height="71" fill="#008000"/>
<rect x="667" y="531" width="5" height="56" fill="#008000"/>
<rect x="677" y="526" width="1" height="74" fill="#ff0000"/>
<rect x="675" y="542" width="5" height="44" fill="#ff0000"/>
<rect x="685" y="497" width="1" height="49" fill="#ff0000"/>
<rect x="683" y="499" width="5" height="45" fill="#ff0000"/>
<rect x="693" y="491" width="1" height="25" fill="#ff0000"/>
<rect x="691" y="501" width="5" height="4" fill="#ff0000"/>
<rect x="701" y="468" width="1" height="36" fill="#ff0000"/>
<rect x="699" y="472" width="5" height="30" fill="#ff0000"/>
<rect x="709" y="470" width="1" height="28" fill="#008000"/>
<rect x="707" y="472" width="5" height="12" fill="#008000"/>
<rect x="717" y="442" width="1" height="51" fill="#ff0000"/>
<rect x="715" y="448" width="5" height="36" fill="#ff0000"/>
<rect x="725" y="445" width="1" height="52" fill="#008000"/>
<rect x="723" y="449" width="5" height="24" fill="#008000"/>
<rect x="733" y="469" width="1" height="35" fill="#008000"/>
<rect x="731" y="473" width="5" height="21" fill="#008000"/>
<rect x="741" y="461" width="1" height="50" fill="#ff0000"/>
<rect x="739" y="468" width="5" height="25" fill="#ff0000"/>
<rect x="749" y="460" width="1" height="34" fill="#008000"/>
<rect x="747" y="467" width="5" height="20" fill="#008000"/>
<rect x="757" y="421" width="1" height="69" fill="#ff0000"/>
<rect x="755" y="433" width="5" height="53" fill="#ff0000"/>
<rect x="765" y="393" width="1" height="48" fill="#ff0000"/>
<rect x="763" y="407" width="5" height="26" fill="#ff0000"/>
<rect x="773" y="381" width="1" height="46" fill="#008000"/>
<rect x="771" y="405" width="5" height="13" fill="#008000"/>
<rect x="781" y="400" width="1" height="33" fill="#ff0000"/>
<rect x="779" y="403" width="5" height="16" fill="#ff0000"/>
<rect x="789" y="366" width="1" height="43" fill="#ff0000"/>
<rect x="787" y="374" width="5" height="31" fill="#ff0000"/>
<rect x="797" y="366" width="1" height="41" fill="#008000"/>
<rect x="795" y="373" width="5" height="21" fill="#008000"/>
<rect x="805" y="370" width="1" height="51" fill="#008000"/>
<rect x="803" y="395" width="5" height="13" fill="#008000"/>
<rect x="813" y="394" width="1" height="29" fill="#ff0000"/>
<rect x="811" y="398" width="5" height="11" fill="#ff0000"/>
<rect x="821" y="390" width="1" height="24" fill="#008000"/>
<rect x="819" y="398" width="5" height="10" fill="#008000"/>
<rect x="829" y="396" width="1" height="39" fill="#ff0000"/>
<rect x="827" y="397" width="5" height="11" fill="#ff0000"/>
<rect x="837" y="381" width="1" height="67" fill="#008000"/>
<rect x="835" y="397" width="5" height="20" fill="#008000"/>
<rect x="845" y="413" width="1" height="19" fill="#008000"/>
<rect x="843" y="414" width="5" height="9" fill="#008000"/>
<rect x="853" y="366" width="1" height="63" fill="#ff0000"/>
<rect x="851" y="375" width="5" height="51" fill="#ff0000"/>
<rect x="861" y="363" width="1" height="56" fill="#008000"/>
<rect x="859" y="376" width="5" height="28" fill="#008000"/>
<rect x="869" y="385" width="1" height="35" fill="#ff0000"/>
<rect x="867" y="387" width="5" height="18" fill="#ff0000"/>
<rect x="877" y="326" width="1" height="72" fill="#ff0000"/>
<rect x="875" y="333" width="5" height="55" fill="#ff0000"/>
<rect x="885" y="277" width="1" height="60" fill="#ff0000"/>
<rect x="883" y="301" width="5" height="34" fill="#ff0000"/>
<rect x="893" y="273" width="1" height="31" fill="#ff0000"/>
<rect x="891" y="292" width="5" height="7" fill="#ff0000"/>
<rect x="901" y="280" width="1" height="47" fill="#ff0000"/>
<rect x="899" y="289" width="5" height="4" fill="#ff0000"/>
<rect x="909" y="276" width="1" height="61" fill="#008000"/>
<rect x="907" y="289" width="5" height="43" fill="#008000"/>
<rect x="917" y="306" width="1" height="39" fill="#ff0000"/>
<rect x="915" y="310" width="5" height="22" fill="#ff0000"/>
<rect x="925" y="273" width="1" height="51" fill="#ff0000"/>
<rect x="923" y="279" width="5" height="32" fill="#ff0000"/>
<rect x="933" y="228" width="1" height="53" fill="#ff0000"/>
<rect x="931" y="231" width="5" height="48" fill="#ff0000"/>
<rect x="941" y="215" width="1" height="24" fill="#ff0000"/>
<rect x="939" y="226" width="5" height="7" fill="#ff0000"/>
<rect x="949" y="186" width="1" height="75" fill="#008000"/>
<rect x="947" y="226" width="5" height="1" fill="#008000"/>
<rect x="957" y="198" width="1" height="40" fill="#ff0000"/>
<rect x="955" y="211" width="5" height="16" fill="#ff0000"/>
<rect x="965" y="187" width="1" height="39" fill="#ff0000"/>
<rect x="963" y="202" width="5" height="10" fill="#ff0000"/>
<rect x="973" y="192" width="1" height="24" fill="#008000"/>
<rect x="971" y="203" width="5" height="2" fill="#008000"/>
<rect x="981" y="166" width="1" height="55" fill="#ff0000"/>
<rect x="979" y="169" width="5" height="38" fill="#ff0000"/>
<rect x="989" y="142" width="1" height="44" fill="#008000"/>
<rect x="987" y="169" width="5" height="5" fill="#008000"/>
<rect x="997" y="160" width="1" height="31" fill="#ff0000"/>
<rect x="995" y="174" width="5" height="1" fill="#ff0000"/>
<rect x="1005" y="155" width="1" height="47" fill="#ff0000"/>
<rect x="1003" y="161" width="5" height="13" fill="#ff0000"/>
<rect x="1013" y="146" width="1" height="18" fill="#ff0000"/>
<rect x="1011" y="154" width="5" height="7" fill="#ff0000"/>
<rect x="1021" y="134" width="1" height="49" fill="#008000"/>
<rect x="1019" y="154" width="5" height="13" fill="#008000"/>
<rect x="1029" y="149" width="1" height="30" fill="#ff0000"/>
<rect x="1027" y="151" width="5" height="16" fill="#ff0000"/>
<rect x="1037" y="148" width="1" height="87" fill="#008000"/>
<rect x="1035" y="151" width="5" height="74" fill="#008000"/>
<rect x="1045" y="174" width="1" height="80" fill="#ff0000"/>
<rect x="1043" y="183" width="5" height="41" fill="#ff0000"/>
<rect x="1053" y="167" width="1" height="37" fill="#ff0000"/>
<rect x="1051" y="169" width="5" height="17" fill="#ff0000"/>
<rect x="1061" y="160" width="1" height="39" fill="#008000"/>
<rect x="1059" y="169" width="5" height="13" fill="#008000"/>
<rect x="1069" y="169" width="1" height="24" fill="#008000"/>
<rect x="1067" y="182" width="5" height="8" fill="#008000"/>
<rect x="1077" y="167" width="1" height="59" fill="#ff0000"/>
<rect x="1075" y="170" width="5" height="19" fill="#ff0000"/>
<rect x="1085" y="161" width="1" height="57" fill="#008000"/>
<rect x="1083" y="170" width="5" height="44" fill="#008000"/>
<rect x="1093" y="210" width="1" height="65" fill="#008000"/>
<rect x="1091" y="212" width="5" height="22" fill="#008000"/>
<rect x="1101" y="227" width="1" height="35" fill="#008000"/>
<rect x="1099" y="232" width="5" height="16" fill="#008000"/>
<rect x="1109" y="239" width="1" height="117" fill="#008000"/>
<rect x="1107" y="246" width="5" height="93" fill="#008000"/>
<rect x="1117" y="312" width="1" height="114" fill="#008000"/>
<rect x="1115" y="338" width="5" height="77" fill="#008000"/>
<rect x="1125" y="367" width="1" height="72" fill="#008000"/>
<rect x="1123" y="413" width="5" height="19" fill="#008000"/>
<rect x="1133" y="388" width="1" height="42" fill="#ff0000"/>
<rect x="1131" y="395" width="5" height="35" fill="#ff0000"/>
<rect x="1141" y="381" width="1" height="35" fill="#008000"/>
<rect x="1139" y="395" width="5" height="9" fill="#008000"/>
<rect x="1149" y="371" width="1" height="44" fill="#008000"/>
<rect x="1147" y="402" width="5" height="1" fill="#008000"/>
<rect x="1157" y="385" width="1" height="30" fill="#008000"/>
<rect x="1155" y="403" width="5" height="8" fill="#008000"/>
<rect x="1165" y="380" width="1" height="34" fill="#ff0000"/>
<rect x="1163" y="398" width="5" height="11" fill="#ff0000"/>
<rect x="1173" y="389" width="1" height="31" fill="#008000"/>
<rect x="1171" y="398" width="5" height="7" fill="#008000"/>
<rect x="1181" y="403" width="1" height="56" fill="#008000"/>
<rect x="1179" y="404" width="5" height="34" fill="#008000"/>
<rect x="1189" y="411" width="1" height="42" fill="#ff0000"/>
<rect x="1187" y="419" width="5" height="18" fill="#ff0000"/>
<rect x="1197" y="395" width="1" height="34" fill="#ff0000"/>
<rect x="1195" y="407" width="5" height="14" fill="#ff0000"/>
<rect x="1205" y="371" width="1" height="42" fill="#ff0000"/>
<rect x="1203" y="386" width="5" height="21" fill="#ff0000"/>
<rect x="1213" y="372" width="1" height="21" fill="#ff0000"/>
<rect x="1211" y="378" width="5" height="10" fill="#ff0000"/>
<rect x="1221" y="332" width="1" height="50" fill="#ff0000"/>
<rect x="1219" y="367" width="5" height="13" fill="#ff0000"/>
<rect x="1229" y="342" width="1" height="32" fill="#ff0000"/>
<rect x="1227" y="354" width="5" height="15" fill="#ff0000"/>
<rect x="1237" y="326" width="1" height="48" fill="#008000"/>
<rect x="1235" y="355" width="5" height="3" fill="#008000"/>
<rect x="1245" y="337" width="1" height="32" fill="#ff0000"/>
<rect x="1243" y="346" width="5" height="11" fill="#ff0000"/>
<rect x="1253" y="340" width="1" height="39" fill="#008000"/>
<rect x="1251" y="346" width="5" height="5" fill="#008000"/>
<rect x="1261" y="328" width="1" height="37" fill="#ff0000"/>
<rect x="1259" y="347" width="5" height="3" fill="#ff0000"/>
<rect x="1269" y="303" width="1" height="51" fill="#ff0000"/>
<rect x="1267" y="308" width="5" height="39" fill="#ff0000"/>
<rect x="1277" y="295" width="1" height="28" fill="#ff0000"/>
<rect x="1275" y="304" width="5" height="5" fill="#ff0000"/>
<rect x="1285" y="299" width="1" height="46" fill="#008000"/>
<rect x="1283" y="304" width="5" height="36" fill="#008000"/>
<rect x="1293" y="328" width="1" height="44" fill="#ff0000"/>
<rect x="1291" y="337" width="5" height="3" fill="#ff0000"/>
<rect x="1301" y="313" width="1" height="40" fill="#008000"/>
<rect x="1299" y="337" width="5" height="5" fill="#008000"/>
<rect x="1309" y="335" width="1" height="38" fill="#008000"/>
<rect x="1307" y="342" width="5" height="14" fill="#008000"/>
<rect x="1317" y="346" width="1" height="31" fill="#ff0000"/>
<rect x="1315" y="349" width="5" height="7" fill="#ff0000"/>
<rect x="1325" y="341" width="1" height="42" fill="#008000"/>
<rect x="1323" y="347" width="5" height="12" fill="#008000"/>
<rect x="1333" y="339" width="1" height="31" fill="#008000"/>
<rect x="1331" y="357" width="5" height="10" fill="#008000"/>
<rect x="1341" y="351" width="1" height="24" fill="#ff0000"/>
<rect x="1339" y="364" width="5" height="3" fill="#ff0000"/>
<rect x="1349" y="342" width="1" height="35" fill="#ff0000"/>
<rect x="1347" y="348" width="5" height="16" fill="#ff0000"/>
<rect x="1357" y="298" width="1" height="51" fill="#ff0000"/>
<rect x="1355" y="307" width="5" height="42" fill="#ff0000"/>
<rect x="1365" y="300" width="1" height="43" fill="#008000"/>
<rect x="1363" y="306" width="5" height="28" fill="#008000"/>
<rect x="1373" y="323" width="1" height="28" fill="#008000"/>
<rect x="1371" y="334" width="5" height="2" fill="#008000"/>
<rect x="1381" y="332" width="1" height="17" fill="#008000"/>
<rect x="1379" y="336" width="5" height="6" fill="#008000"/>
<rect x="1389" y="300" width="1" height="50" fill="#ff0000"/>
<rect x="1387" y="338" width="5" height="4" fill="#ff0000"/>
<rect x="1397" y="333" width="1" height="34" fill="#008000"/>
<rect x="1395" y="338" width="5" height="17" fill="#008000"/>
<rect x="1405" y="352" width="1" height="91" fill="#008000"/>
<rect x="1403" y="353" width="5" height="81" fill="#008000"/>
<rect x="1413" y="431" width="1" height="165" fill="#008000"/>
<rect x="1411" y="433" width="5" height="67" fill="#008000"/>
<rect x="1421" y="482" width="1" height="41" fill="#008000"/>
<rect x="1419" y="498" width="5" height="2" fill="#008000"/>
<rect x="1429" y="450" width="1" height="60" fill="#ff0000"/>
<rect x="1427" y="456" width="5" height="44" fill="#ff0000"/>
<rect x="1437" y="443" width="1" height="33" fill="#ff0000"/>
<rect x="1435" y="454" width="5" height="4" fill="#ff0000"/>
<rect x="1445" y="401" width="1" height="55" fill="#ff0000"/>
<rect x="1443" y="401" width="5" height="53" fill="#ff0000"/>
<rect x="1453" y="382" width="1" height="37" fill="#ff0000"/>
<rect x="1451" y="387" width="5" height="17" fill="#ff0000"/>
<rect x="1461" y="370" width="1" height="30" fill="#008000"/>
<rect x="1459" y="386" width="5" height="4" fill="#008000"/>
<rect x="1469" y="374" width="1" height="33" fill="#ff0000"/>
<rect x="1467" y="386" width="5" height="4" fill="#ff0000"/>
<rect x="1477" y="376" width="1" height="36" fill="#008000"/>
<rect x="1475" y="386" width="5" height="16" fill="#008000"/>
<rect x="1485" y="388" width="1" height="16" fill="#ff0000"/>
<rect x="1483" y="391" width="5" height="11" fill="#ff0000"/>
</g>
<polygon points="7.7,11 15.3,11 11.5,15.3" fill="#000"/>
<rect x="1874" y="386" width="41" height="11" fill="#000" shape-rendering="crispEdges"/>
<text class="s" transform="translate(19.6,16) scale(1,1)" textLength="64.5" lengthAdjust="spacing">XAUUSD,Daily</text>
<text class="s" transform="translate(89.6,16) scale(1,1)" textLength="141.6" lengthAdjust="spacing">1779.70 1786.53 1778.67 1784.87</text>
<text class="s" transform="translate(9,649) scale(1,1)" textLength="113" lengthAdjust="spacing">MACD(5,10,1) 1.901 1.901</text>
<text class="s" transform="translate(1878,41) scale(1,1)" textLength="33" lengthAdjust="spacing">1966.70</text>
<text class="s" transform="translate(1878,74) scale(1,1)" textLength="33" lengthAdjust="spacing">1949.70</text>
<text class="s" transform="translate(1878,107) scale(1,1)" textLength="33" lengthAdjust="spacing">1932.70</text>
<text class="s" transform="translate(1878,140) scale(1,1)" textLength="33" lengthAdjust="spacing">1915.70</text>
<text class="s" transform="translate(1878,173) scale(1,1)" textLength="33" lengthAdjust="spacing">1898.70</text>
<text class="s" transform="translate(1878,206) scale(1,1)" textLength="33" lengthAdjust="spacing">1881.70</text>
<text class="s" transform="translate(1878,239) scale(1,1)" textLength="33" lengthAdjust="spacing">1864.70</text>
<text class="s" transform="translate(1878,272) scale(1,1)" textLength="33" lengthAdjust="spacing">1847.70</text>
<text class="s" transform="translate(1878,305) scale(1,1)" textLength="33" lengthAdjust="spacing">1831.20</text>
<text class="s" transform="translate(1878,338) scale(1,1)" textLength="33" lengthAdjust="spacing">1814.20</text>
<text class="s" transform="translate(1878,371) scale(1,1)" textLength="33" lengthAdjust="spacing">1797.20</text>
<text class="s" transform="translate(1878,404) scale(1,1)" textLength="33" lengthAdjust="spacing">1780.20</text>
<text class="s" transform="translate(1878,437) scale(1,1)" textLength="33" lengthAdjust="spacing">1763.20</text>
<text class="s" transform="translate(1878,470) scale(1,1)" textLength="33" lengthAdjust="spacing">1746.20</text>
<text class="s" transform="translate(1878,503) scale(1,1)" textLength="33" lengthAdjust="spacing">1729.20</text>
<text class="s" transform="translate(1878,536) scale(1,1)" textLength="33" lengthAdjust="spacing">1712.20</text>
<text class="s" transform="translate(1878,569) scale(1,1)" textLength="33" lengthAdjust="spacing">1695.20</text>
<text class="s" transform="translate(1878,602) scale(1,1)" textLength="33" lengthAdjust="spacing">1678.20</text>
<text class="s" transform="translate(1878,635) scale(1,1)" textLength="33" lengthAdjust="spacing">1661.70</text>
<text class="s" transform="translate(1878,395) scale(1,1)" textLength="33" lengthAdjust="spacing" style="fill:#ffffff;stroke:#ffffff">1784.87</text>
<text class="s" transform="translate(1876,647) scale(1,1)" textLength="28" lengthAdjust="spacing">21.926</text>
<text class="s" transform="translate(1875,750) scale(1,1)" textLength="19" lengthAdjust="spacing">0.00</text>
<text class="s" transform="translate(1875.5,750) scale(1,1)" textLength="19" lengthAdjust="spacing">0.00</text>
<text class="s" transform="translate(1876,901) scale(1,1)" textLength="31" lengthAdjust="spacing">-31.634</text>
<text class="s" transform="translate(3.6,917) scale(1,1)" textLength="47.7" lengthAdjust="spacing">1 Dec 2020</text>
<text class="s" transform="translate(67.6,917) scale(1,1)" textLength="53.7" lengthAdjust="spacing">11 Dec 2020</text>
<text class="s" transform="translate(131.6,917) scale(1,1)" textLength="53.3" lengthAdjust="spacing">23 Dec 2020</text>
<text class="s" transform="translate(195.6,917) scale(1,1)" textLength="46.3" lengthAdjust="spacing">6 Jan 2021</text>
<text class="s" transform="translate(259.6,917) scale(1,1)" textLength="51.3" lengthAdjust="spacing">18 Jan 2021</text>
<text class="s" transform="translate(323.6,917) scale(1,1)" textLength="51.0" lengthAdjust="spacing">28 Jan 2021</text>
<text class="s" transform="translate(387.6,917) scale(1,1)" textLength="48.0" lengthAdjust="spacing">9 Feb 2021</text>
<text class="s" transform="translate(451.6,917) scale(1,1)" textLength="52.7" lengthAdjust="spacing">19 Feb 2021</text>
<text class="s" transform="translate(515.6,917) scale(1,1)" textLength="48.3" lengthAdjust="spacing">3 Mar 2021</text>
<text class="s" transform="translate(579.6,917) scale(1,1)" textLength="52.7" lengthAdjust="spacing">15 Mar 2021</text>
<text class="s" transform="translate(643.6,917) scale(1,1)" textLength="53.0" lengthAdjust="spacing">25 Mar 2021</text>
<text class="s" transform="translate(707.6,917) scale(1,1)" textLength="47.3" lengthAdjust="spacing">7 Apr 2021</text>
<text class="s" transform="translate(771.6,917) scale(1,1)" textLength="52.0" lengthAdjust="spacing">19 Apr 2021</text>
<text class="s" transform="translate(835.6,917) scale(1,1)" textLength="52.0" lengthAdjust="spacing">29 Apr 2021</text>
<text class="s" transform="translate(899.6,917) scale(1,1)" textLength="56.3" lengthAdjust="spacing">11 May 2021</text>
<text class="s" transform="translate(963.6,917) scale(1,1)" textLength="56.3" lengthAdjust="spacing">21 May 2021</text>
<text class="s" transform="translate(1027.6,917) scale(1,1)" textLength="46.0" lengthAdjust="spacing">2 Jun 2021</text>
<text class="s" transform="translate(1091.6,917) scale(1,1)" textLength="51.0" lengthAdjust="spacing">14 Jun 2021</text>
<text class="s" transform="translate(1155.6,917) scale(1,1)" textLength="51.0" lengthAdjust="spacing">24 Jun 2021</text>
<text class="s" transform="translate(1219.6,917) scale(1,1)" textLength="43.0" lengthAdjust="spacing">6 Jul 2021</text>
<text class="s" transform="translate(1283.6,917) scale(1,1)" textLength="48.0" lengthAdjust="spacing">16 Jul 2021</text>
<text class="s" transform="translate(1347.6,917) scale(1,1)" textLength="48.0" lengthAdjust="spacing">28 Jul 2021</text>
<text class="s" transform="translate(1411.6,917) scale(1,1)" textLength="49.0" lengthAdjust="spacing">9 Aug 2021</text>
<text class="s" transform="translate(1475.6,917) scale(1,1)" textLength="54.0" lengthAdjust="spacing">19 Aug 2021</text>
<text class="b" x="994.9" y="110">1916</text>
<text class="b" x="1482.4" y="297.7">1833</text>
<text class="b" x="1307.1" y="411.6">1789</text>
<text class="b" x="1154.9" y="493.2">1750</text>
<text class="b" x="1418.9" y="606.6">1680</text>
<text class="b" x="1493.3" y="727.1">1.9</text>
</svg></body></html>
